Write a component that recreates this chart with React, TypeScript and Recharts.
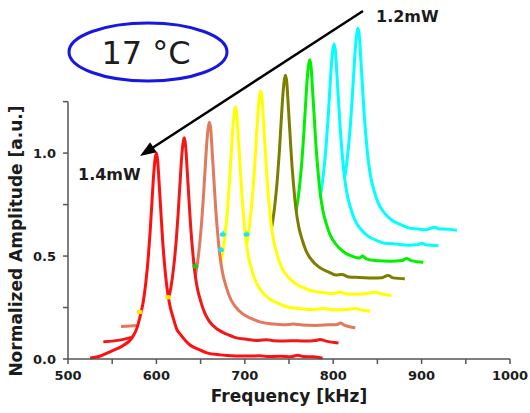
import { ComposedChart, Area, Scatter, Cell, XAxis, YAxis, ReferenceLine } from 'recharts';

type Pt = [number, number];

// resonance curves, front (1.4 mW) to back (1.2 mW): [frequency kHz, amplitude]
const red1: Pt[] = [
  [525, 0.005], [535, 0.012], [547.5, 0.035], [562.5, 0.066], [572, 0.1], [578, 0.15], [582, 0.215],
  [585, 0.275], [588, 0.37], [591, 0.505], [593, 0.625], [595, 0.765], [597, 0.9], [598.5, 0.97],
  [600, 1.0], [601.5, 0.96], [603, 0.86], [605, 0.72], [607, 0.58], [609, 0.47], [612, 0.345],
  [615, 0.265], [619, 0.2], [623, 0.145], [628, 0.115], [638, 0.068], [649, 0.044], [657, 0.03],
  [672, 0.02], [690, 0.015], [705, 0.014], [717, 0.016], [725, 0.012], [740, 0.013], [752, 0.011],
  [760, 0.018], [766, 0.012], [778, 0.011], [788, 0.004],
];
const red2: Pt[] = [
  [540, 0.084], [552, 0.088], [560, 0.093], [570, 0.103], [580, 0.115], [594, 0.143], [603.5, 0.18],
  [609.5, 0.23], [613.5, 0.29], [616.5, 0.35], [619.5, 0.445], [622.5, 0.58], [624.5, 0.7],
  [626.5, 0.84], [628.5, 0.975], [630, 1.045], [631.5, 1.075], [633, 1.04], [634.5, 0.94],
  [636.5, 0.8], [638.5, 0.66], [640.5, 0.55], [643.5, 0.42], [646.5, 0.34], [650.5, 0.275],
  [654.5, 0.225], [659.5, 0.185], [669.5, 0.143], [680.5, 0.119], [688.5, 0.105], [703.5, 0.095],
  [715, 0.09], [725, 0.094], [732, 0.089], [745, 0.088], [760, 0.089], [768, 0.087], [780, 0.09],
  [785, 0.095], [792, 0.087], [806, 0.078],
];
const salmon: Pt[] = [
  [560, 0.158], [570, 0.16], [580, 0.163], [592, 0.168], [608, 0.185], [622, 0.218], [632, 0.255],
  [638, 0.305], [642, 0.365], [645, 0.425], [648, 0.52], [651, 0.655], [653, 0.775], [655, 0.915],
  [657, 1.05], [658.5, 1.12], [660, 1.15], [661.5, 1.115], [663, 1.015], [665, 0.875], [667, 0.735],
  [669, 0.625], [672, 0.495], [675, 0.415], [679, 0.35], [683, 0.3], [688, 0.262], [698, 0.218],
  [709, 0.194], [717, 0.18], [732, 0.17], [745, 0.166], [755, 0.17], [765, 0.165], [780, 0.163],
  [795, 0.166], [805, 0.168], [808, 0.175], [812, 0.166], [825, 0.152],
];
const yellow1: Pt[] = [
  [581, 0.232], [600, 0.236], [615, 0.242], [625, 0.25], [637.5, 0.26], [651.5, 0.293], [661.5, 0.33],
  [667.5, 0.38], [671.5, 0.44], [674.5, 0.5], [677.5, 0.595], [680.5, 0.73], [682.5, 0.85],
  [684.5, 0.99], [686.5, 1.125], [688, 1.195], [689.5, 1.225], [691, 1.19], [692.5, 1.09],
  [694.5, 0.95], [696.5, 0.81], [698.5, 0.7], [701.5, 0.57], [704.5, 0.49], [708.5, 0.425],
  [712.5, 0.375], [717.5, 0.338], [727.5, 0.293], [738.5, 0.269], [746.5, 0.255], [761.5, 0.245],
  [775, 0.24], [790, 0.245], [800, 0.239], [815, 0.24], [825, 0.245], [832, 0.238], [842, 0.232],
];
const yellow2: Pt[] = [
  [613, 0.31], [630, 0.314], [645, 0.32], [656, 0.33], [666, 0.337], [680, 0.37], [690, 0.407],
  [696, 0.457], [700, 0.517], [703, 0.577], [706, 0.672], [709, 0.807], [711, 0.927], [713, 1.067],
  [715, 1.202], [716.5, 1.272], [718, 1.302], [719.5, 1.267], [721, 1.167], [723, 1.027],
  [725, 0.887], [727, 0.777], [730, 0.647], [733, 0.567], [737, 0.502], [741, 0.452], [746, 0.414],
  [756, 0.37], [767, 0.346], [775, 0.332], [790, 0.322], [800, 0.318], [808, 0.325], [815, 0.316],
  [830, 0.315], [840, 0.32], [848, 0.324], [855, 0.316], [866, 0.308],
];
const olive: Pt[] = [
  [625, 0.386], [645, 0.388], [665, 0.393], [680, 0.4], [694, 0.413], [708, 0.446], [718, 0.483],
  [724, 0.533], [728, 0.593], [731, 0.653], [734, 0.748], [737, 0.883], [739, 1.003], [741, 1.143],
  [743, 1.278], [744.5, 1.348], [746, 1.378], [747.5, 1.343], [749, 1.243], [751, 1.103],
  [753, 0.963], [755, 0.853], [758, 0.723], [761, 0.643], [765, 0.578], [769, 0.528], [774, 0.49],
  [784, 0.446], [795, 0.422], [803, 0.408], [810, 0.41], [818, 0.398], [830, 0.396], [845, 0.393],
  [855, 0.395], [862, 0.405], [868, 0.394], [881, 0.39],
];
const green: Pt[] = [
  [644, 0.46], [665, 0.463], [685, 0.466], [700, 0.473], [708, 0.478], [721.5, 0.488], [735.5, 0.521],
  [745.5, 0.558], [751.5, 0.608], [755.5, 0.668], [758.5, 0.728], [761.5, 0.823], [764.5, 0.958],
  [766.5, 1.078], [768.5, 1.218], [770.5, 1.353], [772, 1.423], [773.5, 1.453], [775, 1.418],
  [776.5, 1.318], [778.5, 1.178], [780.5, 1.038], [782.5, 0.928], [785.5, 0.798], [788.5, 0.718],
  [792.5, 0.653], [796.5, 0.603], [801.5, 0.566], [811.5, 0.521], [822.5, 0.497], [830, 0.49],
  [833, 0.5], [838, 0.485], [850, 0.477], [865, 0.475], [878, 0.478], [883, 0.488], [888, 0.478],
  [902, 0.47],
];
const cyan1: Pt[] = [
  [673, 0.537], [690, 0.54], [710, 0.543], [730, 0.55], [749, 0.565], [763, 0.598], [773, 0.635],
  [779, 0.685], [783, 0.745], [786, 0.805], [789, 0.9], [792, 1.035], [794, 1.155], [796, 1.295],
  [798, 1.43], [799.5, 1.5], [801, 1.53], [802.5, 1.495], [804, 1.395], [806, 1.255], [808, 1.115],
  [810, 1.005], [813, 0.875], [816, 0.795], [820, 0.73], [824, 0.68], [829, 0.642], [839, 0.598],
  [850, 0.574], [858, 0.562], [868, 0.56], [875, 0.556], [885, 0.553], [895, 0.555], [900, 0.562],
  [905, 0.555], [919, 0.55],
];
const cyan2: Pt[] = [
  [675, 0.614], [700, 0.616], [725, 0.62], [745, 0.624], [758, 0.627], [776, 0.642], [790, 0.675],
  [800, 0.712], [806, 0.762], [810, 0.822], [813, 0.882], [816, 0.977], [819, 1.112], [821, 1.232],
  [823, 1.372], [825, 1.507], [826.5, 1.577], [828, 1.607], [829.5, 1.572], [831, 1.472],
  [833, 1.332], [835, 1.192], [837, 1.082], [840, 0.952], [843, 0.872], [847, 0.807], [851, 0.757],
  [856, 0.72], [866, 0.675], [877, 0.651], [885, 0.637], [895, 0.632], [905, 0.628], [915, 0.64],
  [920, 0.632], [930, 0.63], [940, 0.625],
];

// offset baseline of each trace (waterfall)
const baselines = [0.012, 0.08, 0.155, 0.23, 0.307, 0.383, 0.458, 0.535, 0.612];
const traces = [red1, red2, salmon, yellow1, yellow2, olive, green, cyan1, cyan2];
const colors = ['#ff1010', '#f01818', '#e2785c', '#ffff00', '#ffff00', '#7d7d00', '#00f000', '#00ffff', '#00ffff'];

// little start markers left over on the curves
const markers = [
  { f: 581, a: 0.228 },
  { f: 613.4, a: 0.3 },
  { f: 644, a: 0.45 },
  { f: 673, a: 0.53 },
  { f: 675, a: 0.605 },
  { f: 702, a: 0.605 },
];
const markerColors = ['#ffe600', '#ffe600', '#10d010', '#20e0ff', '#20e0ff', '#20e0ff'];

const xTicks = [500, 550, 600, 650, 700, 750, 800, 850, 900, 950, 1000];
const yTicks = [0, 0.25, 0.5, 0.75, 1.0, 1.25];
const yLabelled = [0, 0.5, 1.0];

const font = '"DejaVu Sans", Verdana, sans-serif';
const ink = '#1c1c1c';
const axisColor = '#555';

const XTick = (props: any) => {
  const { x, y, payload } = props;
  if (payload.value % 100 !== 0) return <g />;
  return (
    <text x={x} y={y} dy="0.71em" textAnchor="middle" fontFamily={font} fontWeight="bold" fontSize={13} fill={ink}>
      {payload.value}
    </text>
  );
};

const YTick = (props: any) => {
  const { x, y, payload } = props;
  if (!yLabelled.includes(payload.value)) return <g />;
  return (
    <text x={x} y={y} dy="0.36em" textAnchor="end" fontFamily={font} fontWeight="bold" fontSize={13} fill={ink}>
      {payload.value.toFixed(1)}
    </text>
  );
};

const MarkerDot = (props: any) => {
  const { cx, cy, fill } = props;
  return <ellipse cx={cx} cy={cy} rx={3} ry={2.2} fill={fill} />;
};

export default function App() {
  const order = traces.map((_, i) => i).reverse(); // back to front

  return (
    <div style={{ position: 'absolute', left: 0, top: 0, width: 530, height: 413, background: '#fff' }}>
      <ComposedChart width={530} height={413} margin={{ top: 9, right: 20, left: 8, bottom: 24 }}>
        <XAxis
          type="number"
          dataKey="f"
          domain={[500, 1000]}
          ticks={xTicks}
          tick={<XTick />}
          tickSize={5}
          tickMargin={7}
          height={30}
          stroke={axisColor}
          strokeWidth={1.5}
          label={{
            value: 'Frequency [kHz]',
            position: 'bottom',
            offset: 1,
            fontFamily: font,
            fontWeight: 'bold',
            fontSize: 17,
            fill: ink,
          }}
        />
        <YAxis
          type="number"
          dataKey="a"
          domain={[0, 1.7]}
          ticks={yTicks}
          tick={<YTick />}
          tickSize={5}
          tickMargin={7}
          width={60}
          axisLine={false}
          tickLine={{ stroke: axisColor, strokeWidth: 1.5 }}
        />
        <ReferenceLine
          segment={[{ x: 500, y: 0 }, { x: 500, y: 1.25 }]}
          stroke={axisColor}
          strokeWidth={1.5}
          ifOverflow="visible"
        />
        {order.map((i) => (
          <Area
            key={i}
            data={traces[i].map(([f, a]) => ({ f, a }))}
            dataKey="a"
            type="monotone"
            baseValue={baselines[i] - 0.01}
            stroke={colors[i]}
            strokeWidth={3}
            fill="#ffffff"
            fillOpacity={1}
            isAnimationActive={false}
          />
        ))}
        <Scatter data={markers} dataKey="a" isAnimationActive={false} shape={<MarkerDot />}>
          {markers.map((m, i) => (
            <Cell key={i} fill={markerColors[i]} />
          ))}
        </Scatter>
      </ComposedChart>
      <svg width={530} height={413} style={{ position: 'absolute', left: 0, top: 0, pointerEvents: 'none' }}>
        <ellipse cx={148} cy={52} rx={79} ry={29} fill="none" stroke="#1717e0" strokeWidth={3} />
        <text x={146} y={53} textAnchor="middle" dominantBaseline="central" fontFamily={font} fontSize={32} fill={ink}>
          17 °C
        </text>
        <line x1={363} y1={11} x2={153} y2={147.5} stroke="#000" strokeWidth={2.5} />
        <polygon points="140,156 156.7,152.3 150.1,142.3" fill="#000" />
        <text x={376} y={16} dominantBaseline="central" fontFamily={font} fontWeight="bold" fontSize={16} fill={ink}>
          1.2mW
        </text>
        <text x={78} y={174} dominantBaseline="central" fontFamily={font} fontWeight="bold" fontSize={16} fill={ink}>
          1.4mW
        </text>
        <text
          transform="translate(16,241) rotate(-90)"
          textAnchor="middle"
          dominantBaseline="central"
          fontFamily={font}
          fontWeight="bold"
          fontSize={17}
          fill={ink}
        >
          Normalized Amplitude [a.u.]
        </text>
      </svg>
    </div>
  );
}
